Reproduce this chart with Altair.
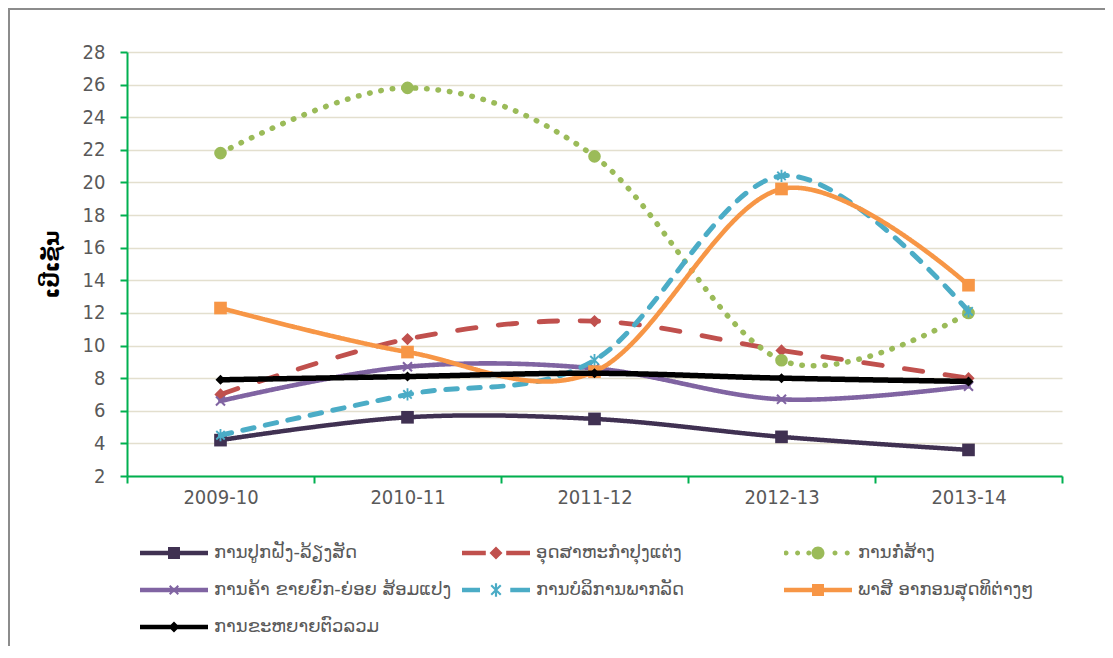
import altair as alt
import pandas as pd

# ---------------- data ----------------
years = ["2009-10", "2010-11", "2011-12", "2012-13", "2013-14"]
series = [
    "ການປູກຝັງ-ລ້ຽງສັດ",
    "ອຸດສາຫະກຳປຸງແຕ່ງ",
    "ການກໍ່ສ້າງ",
    "ການຄ້າ ຂາຍຍົກ-ຍ່ອຍ ສ້ອມແປງ",
    "ການບໍລິການພາກລັດ",
    "ພາສີ ອາກອນສຸດທິຕ່າງໆ",
    "ການຂະຫຍາຍຕົວລວມ",
]
agri = [4.2, 5.6, 5.5, 4.4, 3.6]
manuf = [7.0, 10.4, 11.5, 9.7, 8.0]
constr = [21.8, 25.8, 21.6, 9.1, 12.0]
trade = [6.6, 8.7, 8.6, 6.7, 7.5]
public = [4.5, 7.0, 9.1, 20.4, 12.1]
tax = [12.3, 9.6, 8.4, 19.6, 13.7]
total = [7.9, 8.1, 8.3, 8.0, 7.8]
y_ticks = list(range(2, 29, 2))

all_values = [agri, manuf, constr, trade, public, tax, total]
rows = []
for name, vals in zip(series, all_values):
    for yr, v in zip(years, vals):
        rows.append({"year": yr, "series": name, "value": v})
df = pd.DataFrame(rows)

# ---------------- styles ----------------
colors = ["#403152", "#C0504D", "#9BBB59", "#8064A2", "#4BACC6", "#F79646", "#000000"]
dashes = [[1, 0], [18.5, 22.5], [0.5, 11], [1, 0], [11.5, 11.5], [1, 0], [1, 0]]
widths = [4.5, 4.8, 5.5, 4.6, 5.0, 4.6, 5.5]
marker_sizes = [160, 150, 160, 110, 150, 160, 100]

FONT = "DejaVu Sans Condensed, DejaVu Sans"
LAO = "DejaVu Sans"
GREEN = "#00B050"
GRID = "#E3DFCE"


def f(v):
    return f"{v:.3f}"


def rect(x0, y0, x1, y1):
    return f"M{f(x0)},{f(y0)}L{f(x1)},{f(y0)}L{f(x1)},{f(y1)}L{f(x0)},{f(y1)}Z"


def diamond(cx, h):
    return f"M{f(cx)},{f(-h)}L{f(cx + h)},0L{f(cx)},{f(h)}L{f(cx - h)},0Z"


def circle(cx, r):
    return (f"M{f(cx - r)},0A{f(r)},{f(r)} 0 1,1 {f(cx + r)},0"
            f"A{f(r)},{f(r)} 0 1,1 {f(cx - r)},0Z")


def xshape(cx, a, b):
    p1 = f"M{f(cx - a)},{f(-b)}L{f(cx - b)},{f(-a)}L{f(cx + a)},{f(b)}L{f(cx + b)},{f(a)}Z"
    p2 = f"M{f(cx + b)},{f(-a)}L{f(cx + a)},{f(-b)}L{f(cx - b)},{f(a)}L{f(cx - a)},{f(b)}Z"
    return p1 + p2


def asterisk(cx, a, b, t):
    return xshape(cx, a, b) + rect(cx - t, -a * 1.25, cx + t, a * 1.25)


# chart markers (unit coordinates)
X_MARK = xshape(0, 1.0, 0.72)
AST_MARK = asterisk(0, 0.8, 0.58, 0.15)
marker_shapes = ["square", "diamond", "circle", X_MARK, AST_MARK, "square", "diamond"]

# legend symbols: line + marker, 68px wide -> 1 unit = 34px
U = 34.0
lt = 2.3 / U
full_line = rect(-1, -lt, 1, lt)
leg_paths = [
    full_line + rect(-6 / U, -6 / U, 6 / U, 6 / U),
    rect(-1, -lt, -0.3, lt) + diamond(0, 6.5 / U) + rect(0.3, -lt, 1, lt),
    "".join(circle(c, 2.5 / U) for c in [-0.94, -0.6, -0.27, 0.5, 0.86]) + circle(0, 6.5 / U),
    full_line + xshape(0, 5 / U, 3.6 / U),
    rect(-1, -lt, -0.47, lt) + asterisk(0, 5.5 / U, 4 / U, 1.1 / U) + rect(0.42, -lt, 1, lt),
    full_line + rect(-6 / U, -6 / U, 6 / U, 6 / U),
    full_line + diamond(0, 5.5 / U),
]

W, H = 935, 424

x_enc = alt.X(
    "year:N", sort=years, bandPosition=0.5,
    scale=alt.Scale(type="band", paddingInner=0, paddingOuter=0),
    axis=alt.Axis(title=None, labelAngle=0, tickBand="extent", domainColor=GREEN,
                  domainWidth=2, tickColor=GREEN, tickWidth=2, tickSize=7,
                  labelPadding=4, labelFont=FONT, labelFontSize=20,
                  labelColor="#595959", grid=False),
)
y_enc = alt.Y(
    "value:Q",
    scale=alt.Scale(domain=[2, 28], nice=False, zero=False),
    axis=alt.Axis(title="ເປີເຊັນ", titleFont=LAO, titleFontWeight="bold",
                  titleFontSize=21, titleColor="#000000", titlePadding=20,
                  values=y_ticks, grid=True, gridColor=GRID, gridWidth=1.5,
                  domainColor=GREEN, domainWidth=2, tickColor=GREEN, tickWidth=2,
                  tickSize=7, labelPadding=15, labelFont=FONT, labelFontSize=20,
                  labelColor="#595959"),
)

series_layers = []
for i, name in enumerate(series):
    base = alt.Chart(df).transform_filter(alt.datum.series == name)
    ln = base.mark_line(
        interpolate="cardinal", strokeCap="round", strokeJoin="round",
        strokeDash=dashes[i], strokeWidth=widths[i],
    ).encode(x=x_enc, y=y_enc,
             stroke=alt.Stroke("series:N", scale=alt.Scale(domain=series, range=colors),
                               legend=None))
    pt = base.mark_point(
        filled=True, opacity=1, strokeWidth=0, shape=marker_shapes[i], size=marker_sizes[i]
    ).encode(x=x_enc, y=y_enc,
             fill=alt.Fill("series:N", scale=alt.Scale(domain=series, range=colors),
                           legend=None))
    series_layers += [ln, pt]

legend_cfg = dict(
    title=None, orient="none", legendX=13, legendY=492, columns=3, gridAlign="all",
    direction="horizontal",
    columnPadding=10, rowPadding=19, symbolSize=int(68 * 68), clipHeight=18,
    symbolStrokeWidth=0, labelFont=LAO, labelFontSize=18, labelColor="#595959",
    labelOffset=6, labelLimit=400,
)
legend_layer = alt.Chart(df).transform_filter("false").mark_point(
    filled=True, opacity=1, strokeWidth=0
).encode(
    color=alt.Color("series:N", scale=alt.Scale(domain=series, range=colors),
                    legend=alt.Legend(**legend_cfg)),
    shape=alt.Shape("series:N", scale=alt.Scale(domain=series, range=leg_paths),
                    legend=alt.Legend(**legend_cfg)),
)

frame_df = pd.DataFrame({"k": [0]})
frame_top = alt.Chart(frame_df).mark_rule(color="#8C8C8C", strokeWidth=2).encode(
    x=alt.value(-119), x2=alt.value(W + 43), y=alt.value(-43))
frame_left = alt.Chart(frame_df).mark_rule(color="#8C8C8C", strokeWidth=2).encode(
    x=alt.value(-118), y=alt.value(-44), y2=alt.value(H + 170))

chart = alt.layer(frame_top, frame_left, *series_layers, legend_layer).resolve_scale(
    color="independent", shape="independent"
).properties(
    width=W, height=H,
    padding={"left": 119, "top": 44, "right": 43, "bottom": 170},
    autosize=alt.AutoSizeParams(type="none"),
    background="white",
).configure_view(stroke=None)

chart.save("out.html", embed_options={"renderer": "svg", "actions": False})
